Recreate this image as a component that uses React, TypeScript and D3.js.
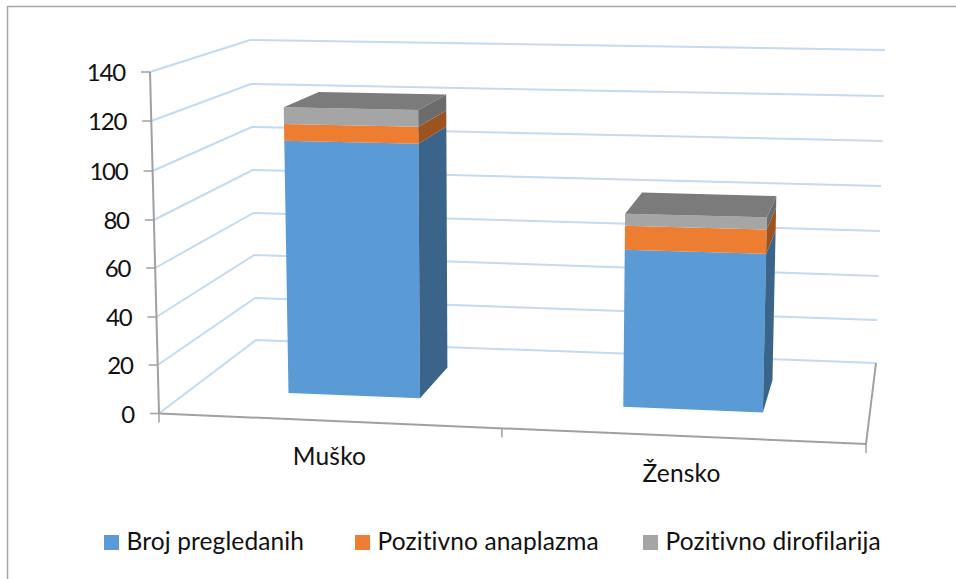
import React from 'react';
import * as d3 from 'd3';

const categories = ['Muško', 'Žensko'];
const seriesNames = ['Broj pregledanih', 'Pozitivno anaplazma', 'Pozitivno dirofilarija'];
const broj = [107.5, 65.5];
const anaplazma = [7, 10];
const dirofilarija = [7, 5];
const yTicks = [0, 20, 40, 60, 80, 100, 120, 140];

const front = ['#5B9BD5', '#ED7D31', '#A5A5A5'];
const side = ['#3A6489', '#9C5320', '#6C6C6C'];
const topColor = '#7B7B7B';

const width = 956;
const height = 579;

// the four vertical edges of the 3D box, value -> screen
const edge = (x0: number, x1: number, ys: number[]) => ({
  x: d3.scaleLinear().domain([0, 140]).range([x0, x1]),
  y: d3.scaleLinear().domain(ys.length > 2 ? yTicks : [0, 140]).range(ys),
});
const frontLeft = edge(159, 150, [413.5, 365, 317, 268, 220, 171, 121, 72]);
const backLeft = edge(256, 250, [340, 298, 255, 213, 170, 127, 84, 40]);
const backRight = edge(876, 885, [363, 320, 276, 231, 186, 141, 96, 50]);
const frontRight = edge(866, 876, [444, 86]);

// perspective: the middle of the category axis sits left of the middle of the box
const warp = d3.scaleLinear().domain([0, 0.5, 1]).range([0, 0.485, 1]);

const project = (u: number, v: number, value: number): [number, number] => {
  const lerp = (a: number, b: number, t: number) => a + (b - a) * t;
  const w = warp(u);
  const fx = lerp(frontLeft.x(value), frontRight.x(value), w);
  const fy = lerp(frontLeft.y(value), frontRight.y(value), w);
  const bx = lerp(backLeft.x(value), backRight.x(value), w);
  const by = lerp(backLeft.y(value), backRight.y(value), w);
  return [lerp(fx, bx, v), lerp(fy, by, v)];
};

const band = d3.scaleBand().domain(categories).range([-0.0025, 0.9975]).paddingInner(0.6).paddingOuter(0.3);
const vFront = 0.335;
const vBack = 0.74;

const line = d3.line();
const poly = (pts: [number, number][]) => line(pts) + 'Z';

const stacked = d3.stack().keys(seriesNames)(
  categories.map((c, i) => ({
    category: c,
    [seriesNames[0]]: broj[i],
    [seriesNames[1]]: anaplazma[i],
    [seriesNames[2]]: dirofilarija[i],
  })) as any
);

const font = 'Lato, Carlito, sans-serif';
const gridColor = '#C3DAEF';
const axisColor = '#A0A0A0';
const textColor = '#111';

export default function App() {
  return (
    <svg width={width} height={height} style={{ position: 'absolute', left: 0, top: 0, display: 'block', background: '#fff' }}>
      {/* chart frame */}
      <path d={`M${width},6.5H7.5V${height}`} fill="none" stroke="#A6A6A6" strokeWidth={1.5} />

      {/* gridlines on the walls */}
      {yTicks.map(t => (
        <path
          key={t}
          d={line([project(0, 0, t), project(0, 1, t), project(1, 1, t)]) as string}
          fill="none"
          stroke={gridColor}
          strokeWidth={2}
        />
      ))}

      {/* floor */}
      <path d={line([project(0, 0, 0), project(1, 0, 0), project(1, 1, 0)]) as string} fill="none" stroke={axisColor} strokeWidth={2} />
      {/* value axis */}
      <path d={line([project(0, 0, 0), project(0, 0, 140)]) as string} fill="none" stroke={axisColor} strokeWidth={2} />
      {yTicks.map(t => {
        const [x, y] = project(0, 0, t);
        return (
          <g key={t}>
            <line x1={x - 9} x2={x} y1={y} y2={y} stroke={axisColor} strokeWidth={1.5} />
            <text x={x - 25} y={y + 9} textAnchor="end" fontFamily={font} fontSize={24} letterSpacing={-1.2} fill={textColor}>{t}</text>
          </g>
        );
      })}
      {[0, 0.5, 1].map(u => {
        const [x, y] = project(u, 0, 0);
        return <line key={u} x1={x} x2={x} y1={y} y2={y + 9} stroke={axisColor} strokeWidth={1.5} />;
      })}

      {/* bars */}
      {categories.map((c, i) => {
        const u0 = band(c) as number;
        const u1 = u0 + band.bandwidth();
        const total = stacked[stacked.length - 1][i][1];
        return (
          <g key={c}>
            {stacked.map((s, k) => {
              const [a, b] = s[i];
              return (
                <g key={k}>
                  <path d={poly([project(u0, vFront, a), project(u1, vFront, a), project(u1, vFront, b), project(u0, vFront, b)])} fill={front[k]} />
                  <path d={poly([project(u1, vFront, a), project(u1, vBack, a), project(u1, vBack, b), project(u1, vFront, b)])} fill={side[k]} />
                </g>
              );
            })}
            <path d={poly([project(u0, vFront, total), project(u1, vFront, total), project(u1, vBack, total), project(u0, vBack, total)])} fill={topColor} />
          </g>
        );
      })}

      {/* category labels */}
      <text x={329.5} y={465} textAnchor="middle" fontFamily={font} fontSize={24.5} letterSpacing={0.2} fill={textColor}>{categories[0]}</text>
      <text x={681.5} y={482} textAnchor="middle" fontFamily={font} fontSize={24.5} letterSpacing={0.2} fill={textColor}>{categories[1]}</text>

      {/* legend */}
      {seriesNames.map((name, i) => {
        const swatchX = [104, 355, 643][i];
        return (
          <g key={name}>
            <rect x={swatchX} y={535} width={15} height={15} fill={front[i]} />
            <text x={swatchX + 22.5} y={550} fontFamily={font} fontSize={24.5} letterSpacing={0.12} fill={textColor}>{name}</text>
          </g>
        );
      })}
    </svg>
  );
}
